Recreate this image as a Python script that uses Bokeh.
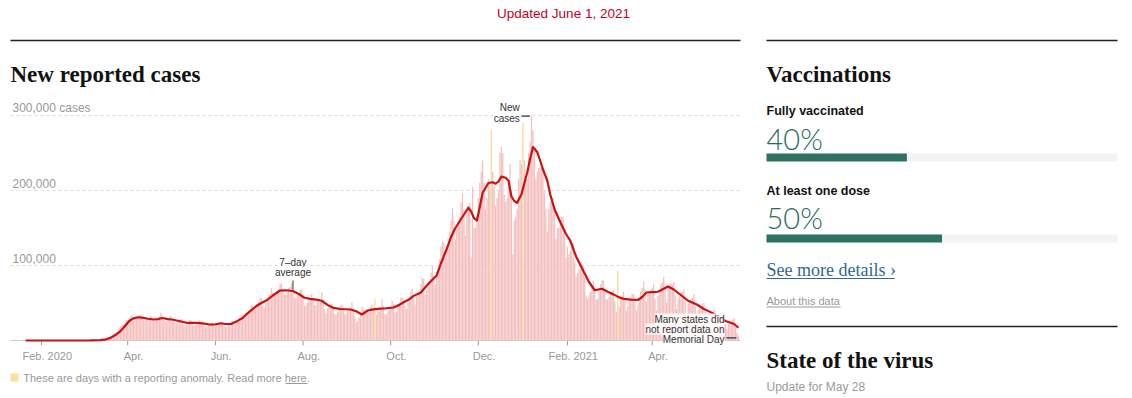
import numpy as np
import pandas as pd
from bokeh.plotting import figure
from bokeh.layouts import row, column
from bokeh.models import Range1d, FixedTicker, Label
from bokeh.core.properties import value
from bokeh.embed import file_html
from bokeh.resources import INLINE

# ---------------- data: daily new reported cases (thousands) ----------------
first_day = "2020-01-21"
cases_2020_jan_feb = [0, 0, 0, 0, 0, 0, 0, 0, 0, 0, 0,
                      0, 0, 0, 0, 0, 0, 0, 0, 0, 0, 0, 0, 0, 0, 0, 0, 0, 0,
                      0, 0, 0, 0, 0, 0, 0, 0, 0, 0, 0]
cases_2020_mar = [0.01, 0.02, 0.03, 0.04, 0.07, 0.08, 0.12, 0.1, 0.2, 0.3, 0.4, 0.5, 0.7, 0.8,
                  0.9, 1.3, 1.8, 2.8, 4.5, 5.8, 7.0, 8.5, 10.5, 11, 13.5, 17.5, 19, 21,
                  21, 23, 27]
cases_2020_apr = [27, 29, 32, 34, 26, 29, 31, 32, 34, 35, 31, 27, 26, 27, 29, 31, 33, 31, 26, 26, 27,
                  29, 32, 37, 34, 27, 25, 25, 28, 31]
cases_2020_may = [33, 29, 26, 23, 23, 25, 28, 29, 26, 21, 19, 21, 22, 27, 27, 25, 20, 21, 21, 22, 27,
                  25, 23, 20, 19, 18, 20, 22, 24, 24, 20]
cases_2020_jun = [18, 20, 20, 21, 25, 23, 19, 18, 18, 21, 23, 25, 26, 21, 22, 25, 27, 31, 34, 35, 30,
                  31, 36, 40, 42, 47, 46, 43, 41, 47]
cases_2020_jul = [52, 56, 57, 47, 44, 48, 58, 61, 62, 70, 64, 59, 60, 64, 68, 75, 77, 66, 62, 61, 64,
                  70, 72, 76, 67, 57, 56, 60, 62, 68, 68]
cases_2020_aug = [58, 47, 46, 50, 54, 56, 62, 55, 47, 47, 52, 55, 52, 64, 54, 42, 36, 43, 46, 47, 49,
                  44, 35, 35, 38, 44, 46, 48, 44, 35, 35]
cases_2020_sep = [42, 40, 44, 51, 43, 32, 24, 26, 31, 36, 45, 41, 38, 37, 40, 39, 45, 48, 43, 55, 34,
                  40, 39, 44, 55, 46, 35, 35, 39, 41]
cases_2020_oct = [45, 53, 49, 37, 38, 44, 50, 57, 58, 55, 46, 42, 50, 59, 64, 69, 57, 48, 59, 61, 63,
                  75, 83, 82, 61, 67, 73, 79, 90, 99, 86]
cases_2020_nov = [75, 92, 95, 108, 125, 132, 130, 110, 126, 136, 145, 160, 177, 160, 135, 152, 160,
                  165, 184, 196, 175, 140, 175, 180, 184, 110, 205, 150, 150, 165]
cases_2020_dec = [190, 210, 225, 240, 210, 175, 190, 215, 210, 280, 225, 205, 180, 190, 200, 250, 258,
                  250, 195, 185, 190, 205, 235, 200, 115, 160, 165, 175, 215, 240, 235]
cases_2021_jan = [290, 240, 215, 215, 250, 265, 300, 280, 255, 215, 225, 230, 230, 235, 230, 200, 175,
                  145, 175, 185, 190, 190, 175, 135, 150, 150, 155, 165, 165, 145, 110]
cases_2021_feb = [125, 115, 120, 125, 130, 105, 85, 90, 95, 95, 105, 100, 85, 60, 55, 60, 65, 70, 80,
                  70, 55, 55, 70, 75, 80, 80, 65, 55]
cases_2021_mar = [55, 58, 65, 65, 68, 52, 38, 93, 45, 57, 60, 65, 55, 40, 45, 52, 58, 62, 62, 52, 40,
                  48, 55, 66, 70, 78, 68, 52, 62, 65, 68]
cases_2021_apr = [70, 75, 55, 40, 60, 62, 75, 78, 85, 72, 50, 70, 73, 77, 75, 78, 60, 42, 55, 60, 65,
                  65, 68, 55, 33, 50, 52, 55, 57, 62]
cases_2021_may = [45, 25, 40, 42, 45, 48, 50, 38, 22, 32, 35, 38, 38, 42, 30, 18, 28, 27, 30, 32, 35,
                  22, 15, 22, 24, 26, 28, 30, 18, 10, 6]

anomaly_days = ["2020-09-20", "2020-12-10", "2021-01-01", "2021-03-08"]

# 7-day average (thousands), read at these dates
avg_dates = ["2020-01-21", "2020-02-29", "2020-03-06", "2020-03-13", "2020-03-17", "2020-03-20",
             "2020-03-24", "2020-03-27", "2020-03-30", "2020-04-02", "2020-04-05", "2020-04-08",
             "2020-04-11", "2020-04-15", "2020-04-19", "2020-04-22", "2020-04-25", "2020-04-29",
             "2020-05-02", "2020-05-05", "2020-05-09", "2020-05-12", "2020-05-16", "2020-05-19",
             "2020-05-23", "2020-05-28", "2020-06-01", "2020-06-05", "2020-06-08", "2020-06-12",
             "2020-06-16", "2020-06-20", "2020-06-23", "2020-06-27", "2020-06-30", "2020-07-03",
             "2020-07-07", "2020-07-11", "2020-07-16", "2020-07-20", "2020-07-25", "2020-07-29",
             "2020-08-02", "2020-08-06", "2020-08-10", "2020-08-14", "2020-08-18", "2020-08-22",
             "2020-08-27", "2020-09-03", "2020-09-07", "2020-09-11", "2020-09-15", "2020-09-19",
             "2020-09-24", "2020-09-28", "2020-10-03", "2020-10-07", "2020-10-10", "2020-10-14",
             "2020-10-17", "2020-10-22", "2020-10-26", "2020-10-30", "2020-11-02", "2020-11-05",
             "2020-11-09", "2020-11-12", "2020-11-15", "2020-11-19", "2020-11-22", "2020-11-24",
             "2020-11-26", "2020-11-28", "2020-11-30", "2020-12-02", "2020-12-04", "2020-12-08",
             "2020-12-11", "2020-12-13", "2020-12-15", "2020-12-17", "2020-12-20", "2020-12-22",
             "2020-12-24", "2020-12-26", "2020-12-28", "2020-12-31", "2021-01-04", "2021-01-06",
             "2021-01-08", "2021-01-09", "2021-01-11", "2021-01-13", "2021-01-15", "2021-01-18",
             "2021-01-20", "2021-01-23", "2021-01-27", "2021-01-31", "2021-02-03", "2021-02-07",
             "2021-02-12", "2021-02-16", "2021-02-20", "2021-02-25", "2021-03-01", "2021-03-05",
             "2021-03-09", "2021-03-12", "2021-03-17", "2021-03-22", "2021-03-25", "2021-03-28",
             "2021-04-01", "2021-04-05", "2021-04-09", "2021-04-12", "2021-04-16", "2021-04-20",
             "2021-04-26", "2021-05-02", "2021-05-07", "2021-05-12", "2021-05-16", "2021-05-22",
             "2021-05-28", "2021-05-31"]
avg_k = [0, 0, 0.1, 0.6, 1.6, 3.5, 8, 12.5, 19, 26, 29.5, 31,
         30.5, 29, 28, 28.5, 30, 28.5, 28, 26.7, 25, 23.6, 23.5, 23.6,
         22.8, 21.3, 21.5, 23, 22, 22, 25.8, 30, 35.6, 42, 46.7, 50,
         54, 60, 66.7, 67, 66, 62, 57, 55.6, 54.5, 53, 47.5, 43.6,
         42, 41.3, 39, 34.7, 40, 41.5, 42.5, 43, 44, 47.5, 51, 55,
         59.5, 64, 73, 81, 86.7, 103, 122, 138, 150, 162, 171, 177,
         172, 163, 160, 178, 197, 210, 211, 209, 212, 218.5, 217, 213,
         192, 186, 183.6, 195, 224, 242, 258, 256, 251, 240, 228, 213,
         195, 175, 158, 142, 133, 112, 93, 78, 67, 69, 65, 61.5,
         57.5, 55.6, 54.5, 54, 58, 64, 64.5, 65, 69, 72, 68, 62,
         53, 48, 42, 37.5, 33, 26, 22, 17]

tick_dates = ["2020-02-01", "2020-04-01", "2020-06-01", "2020-08-01", "2020-10-01",
              "2020-12-01", "2021-02-01", "2021-04-01"]
tick_labels = ["Feb. 2020", "Apr.", "Jun.", "Aug.", "Oct.", "Dec.", "Feb. 2021", "Apr."]
y_ticks = [100000, 200000, 300000]
y_tick_labels = ["100,000", "200,000", "300,000 cases"]

vacc_labels = ["Fully vaccinated", "At least one dose"]
vacc_pct = [40, 50]

# ---------------- helpers (layout only, page pixel -> data) ----------------
DAY = 86400000.0
SANS = "Liberation Sans"
SERIF = "Liberation Serif"


def ms(s):
    return pd.Timestamp(s).value / 1e6


BASE = ms("2020-02-01")
PXD = 1.437  # pixels per day


def X(px):
    return BASE + (px - 41.0) / PXD * DAY


def Y(py):
    return (340.0 - py) * 100000.0 / 75.0


def mid(baseline, fs, k=0.35):
    # text is placed by its middle; convert a wanted baseline to that middle
    return baseline - k * fs


daily_k = (cases_2020_jan_feb + cases_2020_mar + cases_2020_apr + cases_2020_may + cases_2020_jun
           + cases_2020_jul + cases_2020_aug + cases_2020_sep + cases_2020_oct + cases_2020_nov
           + cases_2020_dec + cases_2021_jan + cases_2021_feb + cases_2021_mar + cases_2021_apr
           + cases_2021_may)
days = pd.date_range(first_day, periods=len(daily_k), freq="D")
cases = np.array(daily_k, dtype=float) * 1000
anom = np.asarray(days.isin(pd.to_datetime(anomaly_days)))
avg_x = pd.to_datetime(avg_dates)
avg_y = np.array(avg_k, dtype=float) * 1000

# ---------------- main chart ----------------
p = figure(width=752, height=370, x_axis_type="datetime", y_axis_location=None,
           x_range=Range1d(X(0), X(752)), y_range=Range1d(Y(345), Y(0)),
           output_backend="svg", toolbar_location=None,
           min_border_left=0, min_border_right=0, min_border_top=0, min_border_bottom=25)
p.outline_line_color = None
p.grid.visible = False

# gridlines
p.segment(x0=X(10), x1=X(740), y0=y_ticks, y1=y_ticks, line_color="#dddddd",
          line_width=1, line_dash="3 3")
for t, lab in zip(y_ticks, y_tick_labels):
    p.add_layout(Label(x=X(12), y=t, text=lab, y_offset=3.3 + 0.35 * 12, text_font=SANS,
                       text_font_size="12px", text_color="#999999", text_baseline="middle"))

# bars
p.vbar(x=days[~anom], top=cases[~anom], width=0.88 * DAY, fill_color="#f4bfbf", line_color=None)
p.vbar(x=days[anom], top=cases[anom], width=0.88 * DAY, fill_color="#fcd895", line_color=None)
# baseline
p.segment(x0=X(10), x1=X(740), y0=0, y1=0, line_color="#cccccc", line_width=1)
# 7-day average
p.line(x=avg_x, y=avg_y, line_color="#cc1111", line_width=2.2, line_join="round")

# axis: labels sit a little right of their month tick, tick marks drawn at the month start
ax = p.xaxis[0]
tick_ms = [int(ms(d)) for d in tick_dates]
label_ms = [int(t + 4 * DAY) for t in tick_ms]
ax.ticker = FixedTicker(ticks=label_ms)
ax.major_label_overrides = {t: l for t, l in zip(label_ms, tick_labels)}
ax.axis_line_color = None
ax.major_tick_line_color = None
ax.major_tick_in = 5
ax.major_tick_out = 0
ax.minor_tick_line_color = None
ax.major_label_text_font = SANS
ax.major_label_text_font_size = "11px"
ax.major_label_text_color = "#999999"
ax.major_label_standoff = 4
p.segment(x0=tick_ms, x1=tick_ms, y0=Y(340.5), y1=Y(345), line_color="#999999", line_width=1)

# header
p.add_layout(Label(x=X(563), y=Y(mid(17.7, 13.5)), text="Updated June 1, 2021", text_align="center",
                   text_baseline="middle", text_font=SANS, text_font_size="13.5px",
                   text_color="#c4002b"))
p.segment(x0=X(10), x1=X(740), y0=Y(40), y1=Y(40), line_color="#222222", line_width=1.3)
p.add_layout(Label(x=X(10), y=Y(mid(81.7, 23)), text="New reported cases", text_baseline="middle",
                   text_font=SERIF, text_font_style="bold", text_font_size="23px",
                   text_color="#121212"))

ann = dict(text_font=SANS, text_font_size="10px", text_color="#333333",
           text_baseline="middle", background_fill_color="white", background_fill_alpha=0.85)

# "New cases" annotation, anchored on the highest daily bar
i_pk = int(np.argmax(cases))
x_pk = ms(days[i_pk])
y_pk = cases[i_pk]
p.add_layout(Label(x=x_pk, y=y_pk, text="New", x_offset=-11.7, y_offset=8, text_align="right", **ann))
p.add_layout(Label(x=x_pk, y=y_pk, text="cases", x_offset=-11.7, y_offset=-2.5, text_align="right", **ann))
p.segment(x0=x_pk - 10 / PXD * DAY, x1=x_pk - 1.7 / PXD * DAY, y0=y_pk - 900, y1=y_pk - 900,
          line_color="#333333", line_width=1.2)

# "7-day average" annotation
i_av = avg_dates.index("2020-07-25")
x_av = ms(avg_dates[i_av])
y_av = avg_y[i_av]
p.add_layout(Label(x=x_av, y=y_av, text="7\u2013day", y_offset=29, text_align="center", **ann))
p.add_layout(Label(x=x_av, y=y_av, text="average", y_offset=18.5, text_align="center", **ann))
p.segment(x0=x_av, x1=x_av, y0=y_av + 1600, y1=y_av + 14000, line_color="#333333", line_width=1)

# Memorial Day note, anchored on the last day
x_last = ms(days[-1])
for txt, off in [("Many states did", 21.5), ("not report data on", 11.5), ("Memorial Day", 1.5)]:
    p.add_layout(Label(x=x_last, y=0, text=txt, x_offset=-14, y_offset=off, text_align="right", **ann))
p.segment(x0=x_last - 12 / PXD * DAY, x1=x_last - 2 / PXD * DAY, y0=3600, y1=3600,
          line_color="#333333", line_width=1.2)

# ---------------- anomaly note under the chart ----------------
note = figure(width=752, height=26, x_range=Range1d(0, 752), y_range=Range1d(396, 370),
              x_axis_location=None, y_axis_location=None, output_backend="svg",
              toolbar_location=None, min_border=0)
note.outline_line_color = None
note.grid.visible = False
note.quad(left=10, right=18, top=373, bottom=381, fill_color="#fde0a0", line_color=None)
note.text(x=[22.7], y=[mid(381, 11)], text=["These are days with a reporting anomaly. Read more here."],
          text_font=value(SANS), text_font_size="11px", text_color="#999999",
          text_baseline="middle")
note.segment(x0=285, x1=307, y0=383, y1=383, line_color="#999999", line_width=1)

# ---------------- right panel: vaccinations ----------------
right = figure(width=378, height=396, x_range=Range1d(-14 / 3.51, 364 / 3.51),
               y_range=Range1d(396, 0), x_axis_location=None, y_axis_location=None,
               output_backend="svg", toolbar_location=None, min_border=0)
right.outline_line_color = None
right.grid.visible = False

right.segment(x0=0, x1=100, y0=[40, 326], y1=[40, 326], line_color="#222222", line_width=1.3)
right.text(x=[0, 0], y=[mid(81.7, 23), mid(367.7, 23)], text=["Vaccinations", "State of the virus"],
           text_font=value(SERIF), text_font_style="bold", text_font_size="23px",
           text_color="#121212", text_baseline="middle")
label_y = [mid(115, 12.5), mid(195, 12.5)]
pct_y = [mid(148.3, 28, 0.38), mid(228, 28, 0.38)]
bar_y = [157, 238]
right.text(x=0, y=label_y, text=vacc_labels, text_font=value(SANS), text_font_style="bold",
           text_font_size="12.5px", text_color="#121212", text_baseline="middle")
right.text(x=0, y=pct_y, text=[f"{v}%" for v in vacc_pct],
           text_font=value("'Lato Light', Lato, sans-serif"), text_font_size="29px",
           text_color="#2a6d5f", text_baseline="middle")
right.hbar(y=bar_y, left=0, right=100, height=8, fill_color="#f3f3f3", line_color=None)
right.hbar(y=bar_y, left=0, right=vacc_pct, height=8, fill_color="#2e7264", line_color=None)

right.text(x=[0], y=[mid(276, 18)], text=["See more details \u203a"], text_font=value(SERIF),
           text_font_size="18px", text_color="#326891", text_baseline="middle")
right.segment(x0=0, x1=36.5, y0=278, y1=278, line_color="#326891", line_width=1)
right.text(x=[0], y=[mid(304.5, 11)], text=["About this data"], text_font=value(SANS),
           text_font_size="11px", text_color="#999999", text_baseline="middle")
right.segment(x0=0, x1=21.1, y0=306.5, y1=306.5, line_color="#999999", line_width=1)
right.text(x=[0], y=[mid(390.3, 12)], text=["Update for May 28"], text_font=value(SANS),
           text_font_size="12px", text_color="#999999", text_baseline="middle")

layout = row(column(p, note), right)
open("out.html", "w").write(file_html(layout, INLINE, title="New reported cases"))
